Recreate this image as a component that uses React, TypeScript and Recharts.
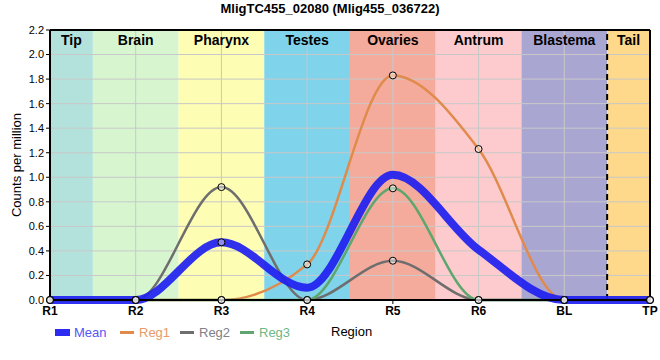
import React from 'react';
import { ComposedChart, Line, XAxis, YAxis, ReferenceArea, ReferenceLine, Legend } from 'recharts';

const regions = ['R1', 'R2', 'R3', 'R4', 'R5', 'R6', 'BL', 'TP'];
const meanValues = [0, 0, 0.47, 0.1, 1.02, 0.41, 0, 0];
const reg1Values = [0, 0, 0, 0.29, 1.83, 1.23, 0, 0];
const reg2Values = [0, 0, 0.92, 0, 0.32, 0, 0, 0];
const reg3Values = [0, 0, 0, 0, 0.91, 0, 0, 0];
const meanMarkerValues = [null, null, 0.47, null, null, null, null, null];

const bandNames = ['Tip', 'Brain', 'Pharynx', 'Testes', 'Ovaries', 'Antrum', 'Blastema', 'Tail'];
const bandColors = ['#b3e2dc', '#d7f6d0', '#fdfdb3', '#7fd3ea', '#f5ab9c', '#fdcbcd', '#aaa6d2', '#fed98b'];
const yTicks = [0, 0.2, 0.4, 0.6, 0.8, 1.0, 1.2, 1.4, 1.6, 1.8, 2.0, 2.2];

const FONT = '"Liberation Sans", Arial, sans-serif';

const data = regions.map((r, i) => ({
  x: i,
  mean: meanValues[i],
  reg1: reg1Values[i],
  reg2: reg2Values[i],
  reg3: reg3Values[i],
  meanMarker: meanMarkerValues[i],
}));

const lastIndex = regions.length - 1;

const Marker = (props: any) => {
  const { cx, cy, value, index } = props;
  if (value === null || value === undefined || cx == null || cy == null) return <g key={`m-${index}`} />;
  return (
    <circle key={`m-${index}`} cx={cx} cy={cy} r={3.5} fill="#ffffff" fillOpacity={0.45} stroke="#000" strokeWidth={1} />
  );
};

const legendItems = [
  { name: 'Mean', color: '#2b2bf2', text: '#5555f5', swatch: 'box' },
  { name: 'Reg1', color: '#e08a4c', text: '#e89a68', swatch: 'line' },
  { name: 'Reg2', color: '#6e6e6e', text: '#808088', swatch: 'line' },
  { name: 'Reg3', color: '#5ea66e', text: '#6fb784', swatch: 'line' },
];

const LegendContent = () => (
  <div style={{ position: 'relative', width: 660, height: 20, fontFamily: FONT, fontSize: 13 }}>
    {legendItems.map((it, i) => {
      const left = [55, 120, 180, 240][i];
      return (
        <div key={it.name} style={{ position: 'absolute', left, top: 2, display: 'flex', alignItems: 'center', height: 16 }}>
          {it.swatch === 'box' ? (
            <div style={{ width: 15, height: 7, background: it.color, marginRight: 4 }} />
          ) : (
            <div style={{ width: 14, height: 3, background: it.color, marginRight: 5 }} />
          )}
          <span style={{ color: it.text }}>{it.name}</span>
        </div>
      );
    })}
    <div style={{ position: 'absolute', left: 331, top: 2, height: 16, lineHeight: '16px', color: '#000' }}>Region</div>
  </div>
);

export default function App() {
  return (
    <div style={{ position: 'absolute', left: 0, top: 0, width: 660, height: 360, background: '#fff' }}>
      <div
        style={{
          position: 'absolute',
          top: 1,
          left: 0,
          width: 660,
          textAlign: 'center',
          fontFamily: FONT,
          fontWeight: 'bold',
          fontSize: 13,
          color: '#000',
          zIndex: 2,
        }}
      >
        MligTC455_02080 (Mlig455_036722)
      </div>
      <ComposedChart width={660} height={360} data={data} margin={{ top: 30, right: 10, left: 20, bottom: 20 }}>
        <XAxis
          dataKey="x"
          type="number"
          domain={[0, lastIndex]}
          ticks={regions.map((_, i) => i)}
          tickFormatter={(v: number) => regions[v]}
          interval={0}
          height={20}
          axisLine={{ stroke: '#000', strokeWidth: 2 }}
          tickLine={{ stroke: '#000' }}
          tickSize={4}
          tick={{ fill: '#000', fontSize: 12, fontWeight: 'bold', fontFamily: FONT }}
        />
        <YAxis
          type="number"
          domain={[0, 2.2]}
          ticks={yTicks}
          tickFormatter={(v: number) => v.toFixed(1)}
          width={30}
          axisLine={{ stroke: '#000', strokeWidth: 2 }}
          tickLine={{ stroke: '#000' }}
          tickSize={4}
          tick={{ fill: '#000', fontSize: 11, fontFamily: FONT }}
          label={{
            value: 'Counts per million',
            angle: -90,
            position: 'insideLeft',
            offset: -4,
            style: { textAnchor: 'middle', fontSize: 13, fontFamily: FONT, fill: '#000' },
          }}
        />
        {bandNames.map((name, i) => (
          <ReferenceArea
            key={name}
            x1={i === 0 ? 0 : i - 0.5}
            x2={i === lastIndex ? lastIndex : i + 0.5}
            y1={0}
            y2={2.2}
            fill={bandColors[i]}
            fillOpacity={1}
            stroke="none"
            label={{ value: name, position: 'insideTop', offset: 5, fontSize: 14, fontWeight: 'bold', fontFamily: FONT, fill: '#000' }}
          />
        ))}
        {yTicks.slice(1, -1).map((t) => (
          <ReferenceLine key={`gy-${t}`} y={t} stroke="#c8c8c8" strokeWidth={1} />
        ))}
        {regions.slice(1, -1).map((_, i) => (
          <ReferenceLine key={`gx-${i}`} x={i + 1} stroke="#c8c8c8" strokeWidth={1} />
        ))}
        <ReferenceLine x={lastIndex - 0.5} stroke="#000" strokeWidth={2} strokeDasharray="6 4" />
        <ReferenceLine y={2.2} stroke="#000" strokeWidth={2} />
        <ReferenceLine x={lastIndex} stroke="#000" strokeWidth={2} />
        <Line type="monotone" dataKey="reg1" stroke="#e08a4c" strokeWidth={2.5} dot={false} isAnimationActive={false} />
        <Line type="monotone" dataKey="reg2" stroke="#6e6e6e" strokeWidth={2.5} dot={false} isAnimationActive={false} />
        <Line type="monotone" dataKey="reg3" stroke="#5ea66e" strokeWidth={2.5} dot={false} isAnimationActive={false} />
        <Line type="monotone" dataKey="mean" stroke="#2020f0" strokeOpacity={0.92} strokeWidth={8} dot={false} isAnimationActive={false} />
        <Line dataKey="reg1" stroke="none" dot={Marker} activeDot={false} isAnimationActive={false} legendType="none" />
        <Line dataKey="reg2" stroke="none" dot={Marker} activeDot={false} isAnimationActive={false} legendType="none" />
        <Line dataKey="reg3" stroke="none" dot={Marker} activeDot={false} isAnimationActive={false} legendType="none" />
        <Line dataKey="meanMarker" stroke="none" dot={Marker} activeDot={false} isAnimationActive={false} legendType="none" />
        <Legend
          verticalAlign="bottom"
          height={20}
          content={LegendContent}
          wrapperStyle={{ position: 'absolute', left: 0, top: 322, width: 660, height: 20 }}
        />
      </ComposedChart>
    </div>
  );
}
